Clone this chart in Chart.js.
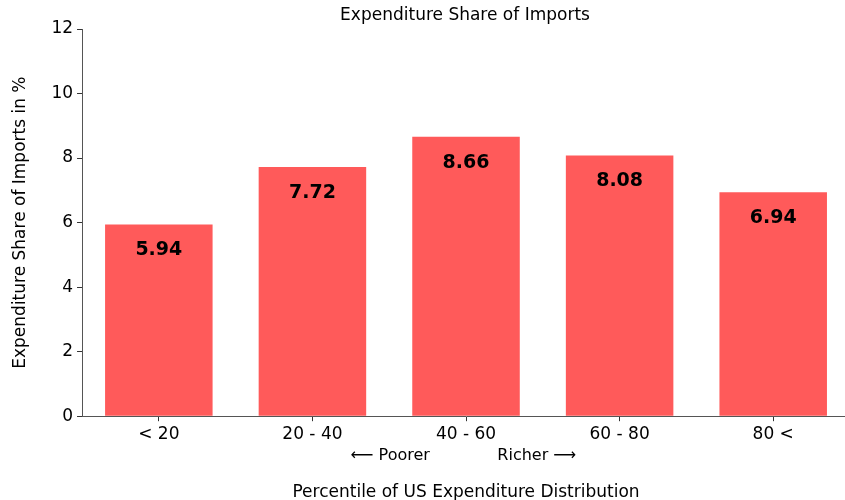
<!DOCTYPE html>
<html>
<head>
<meta charset="utf-8">
<script src="https://cdn.jsdelivr.net/npm/chart.js@4"></script>
<style>
html,body{margin:0;padding:0;overflow:hidden;background:#fff;}
#wrap{width:850px;height:500px;}
</style>
</head>
<body>
<div id="wrap"><canvas id="c" width="850" height="500"></canvas></div>
<script>
const categories = ["< 20", "20 - 40", "40 - 60", "60 - 80", "80 <"];
const importShare = [5.94, 7.72, 8.66, 8.08, 6.94];
const yTicks = [0, 2, 4, 6, 8, 10, 12];
const chartTitle = "Expenditure Share of Imports";
const xTitle = "Percentile of US Expenditure Distribution";
const yTitle = "Expenditure Share of Imports in %";
const poorerLabel = "\u27F5 Poorer";
const richerLabel = "Richer \u27F6";

const FONT = "'DejaVu Sans', sans-serif";

const extraText = {
  id: 'extraText',
  afterDraw(chart) {
    const ctx = chart.ctx;
    const xs = chart.scales.x;
    const ys = chart.scales.y;
    const ca = chart.chartArea;
    ctx.save();
    ctx.fillStyle = "#000";
    ctx.textAlign = "center";
    ctx.textBaseline = "middle";
    ctx.font = "17px " + FONT;
    ctx.fillText(chartTitle, (ca.left + ca.right) / 2 - 1, 16);
    ctx.font = "bold 19px " + FONT;
    importShare.forEach((v, i) => {
      const x = xs.getPixelForValue(i);
      const y = ys.getPixelForValue(v) + 26;
      ctx.fillText(v.toFixed(2), x, y);
    });
    ctx.font = "16px " + FONT;
    const mid = (xs.getPixelForValue(1) + xs.getPixelForValue(2)) / 2;
    const mid2 = (xs.getPixelForValue(2) + xs.getPixelForValue(3)) / 2;
    ctx.fillText(poorerLabel, mid + 1, ca.bottom + 40);
    ctx.fillText(richerLabel, mid2 - 6, ca.bottom + 40);
    ctx.restore();
  }
};

new Chart(document.getElementById('c'), {
  type: 'bar',
  data: {
    labels: categories,
    datasets: [{
      data: importShare,
      backgroundColor: '#ff5a5a',
      barPercentage: 0.7,
      categoryPercentage: 1.0
    }]
  },
  options: {
    responsive: false,
    animation: false,
    devicePixelRatio: 1,
    layout: { padding: { top: 29, bottom: -3, left: 10, right: 0 } },
    plugins: {
      legend: { display: false },
      tooltip: { enabled: false },
      title: { display: false }
    },
    scales: {
      x: {
        grid: { display: true, offset: false, drawOnChartArea: false, drawTicks: true, tickLength: 5, color: '#333' },
        border: { display: true, color: '#555', width: 1 },
        ticks: { color: '#000', font: { family: FONT, size: 17 }, padding: 3 },
        title: {
          display: true, text: xTitle, color: '#000',
          font: { family: FONT, size: 17 },
          padding: { top: 35, bottom: 0 }
        }
      },
      y: {
        min: 0, max: 12,
        afterBuildTicks(scale) { scale.ticks = yTicks.map(v => ({ value: v })); },
        grid: { display: true, drawOnChartArea: false, drawTicks: true, tickLength: 5, color: '#333' },
        border: { display: true, color: '#555', width: 1 },
        ticks: { color: '#000', font: { family: FONT, size: 17 }, padding: 4 },
        title: {
          display: true, text: yTitle, color: '#000',
          font: { family: FONT, size: 17 },
          padding: { top: 0, bottom: 17 }
        }
      }
    }
  },
  plugins: [extraText]
});
</script>
</body>
</html>
